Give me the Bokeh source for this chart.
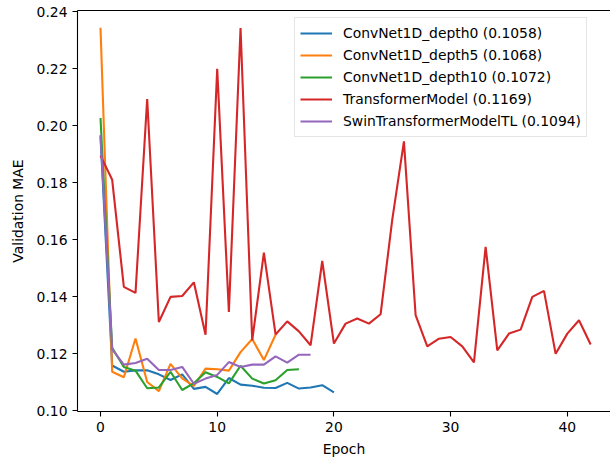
from bokeh.plotting import figure
from bokeh.embed import file_html
from bokeh.resources import INLINE
from bokeh.models import (Range1d, LinearAxis, FixedTicker, PrintfTickFormatter,
                          Legend, LegendItem)

# ---- data (validation MAE per epoch) ----
convnet_d0 = [0.1962, 0.1158, 0.1136, 0.1141, 0.1141, 0.1127, 0.1107, 0.1127, 0.1076, 0.1083,
              0.1058, 0.1114, 0.1091, 0.1087, 0.1080, 0.1079, 0.1097, 0.1077, 0.1081, 0.1089,
              0.1064]
convnet_d5 = [0.2344, 0.1136, 0.1117, 0.1253, 0.1100, 0.1068, 0.1164, 0.1113, 0.1086, 0.1147,
              0.1145, 0.1140, 0.1205, 0.1251, 0.1177, 0.1266]
convnet_d10 = [0.2027, 0.1220, 0.1153, 0.1140, 0.1078, 0.1081, 0.1136, 0.1072, 0.1096, 0.1134,
               0.1118, 0.1095, 0.1157, 0.1112, 0.1095, 0.1106, 0.1142, 0.1145]
transformer = [0.1895, 0.1810, 0.1434, 0.1413, 0.2094, 0.1311, 0.1399, 0.1402, 0.1450, 0.1266,
               0.2200, 0.1346, 0.2343, 0.1246, 0.1554, 0.1267, 0.1313, 0.1278, 0.1229, 0.1525,
               0.1235, 0.1305, 0.1323, 0.1305, 0.1338, 0.1670, 0.1945, 0.1335, 0.1225, 0.1252,
               0.1258, 0.1225, 0.1169, 0.1575, 0.1211, 0.1270, 0.1284, 0.1399, 0.1420, 0.1199,
               0.1270, 0.1317, 0.1232]
swin_tl = [0.1968, 0.1215, 0.1161, 0.1167, 0.1182, 0.1142, 0.1142, 0.1153, 0.1094, 0.1112,
           0.1125, 0.1170, 0.1153, 0.1161, 0.1161, 0.1190, 0.1168, 0.1196, 0.1196]

series_names = ["ConvNet1D_depth0", "ConvNet1D_depth5", "ConvNet1D_depth10",
                "TransformerModel", "SwinTransformerModelTL"]
series_values = [convnet_d0, convnet_d5, convnet_d10, transformer, swin_tl]
series_colors = ["#1f77b4", "#ff7f0e", "#2ca02c", "#d62728", "#9467bd"]

x_ticks = [0, 10, 20, 30, 40]
y_ticks = [0.10, 0.12, 0.14, 0.16, 0.18, 0.20, 0.22, 0.24]

FONT = "DejaVu Sans"
FS = "13.9px"

p = figure(width=610, height=460, output_backend="svg", toolbar_location=None,
           x_range=Range1d(-1.971, 43.70), y_range=Range1d(0.09965, 0.24046),
           min_border_left=77, min_border_right=0, min_border_top=10, min_border_bottom=49)
p.background_fill_color = "white"
p.border_fill_color = "white"
p.outline_line_color = None
p.xgrid.visible = False
p.ygrid.visible = False

for ax in (p.xaxis[0], p.yaxis[0]):
    ax.axis_line_color = "black"
    ax.axis_line_width = 1.1
    ax.major_tick_line_color = "black"
    ax.major_tick_line_width = 1.1
    ax.major_tick_out = 5
    ax.major_tick_in = 0
    ax.minor_tick_line_color = None
    ax.major_label_text_font = FONT
    ax.major_label_text_font_size = FS
    ax.major_label_text_color = "black"
    ax.major_label_standoff = 5
    ax.axis_label_text_font = FONT
    ax.axis_label_text_font_size = FS
    ax.axis_label_text_font_style = "normal"
    ax.axis_label_text_color = "black"

p.xaxis.ticker = FixedTicker(ticks=x_ticks)
p.yaxis.ticker = FixedTicker(ticks=y_ticks)
p.yaxis.formatter = PrintfTickFormatter(format="%.2f")
p.xaxis.axis_label = "Epoch"
p.yaxis.axis_label = "Validation MAE"
p.xaxis.axis_label_standoff = 6
p.yaxis.axis_label_standoff = 8

top_axis = LinearAxis(ticker=FixedTicker(ticks=[]), major_tick_line_color=None,
                      minor_tick_line_color=None, axis_line_color="black",
                      axis_line_width=1.1, major_label_text_font_size="0px")
p.add_layout(top_axis, "above")

items = []
for name, vals, col in zip(series_names, series_values, series_colors):
    xs = list(range(len(vals)))
    r = p.line(xs, vals, line_color=col, line_width=2.1)
    items.append(LegendItem(label=f"{name} ({min(vals):.4f})", renderers=[r]))

legend = Legend(items=items, location=(217, 274))
legend.label_text_font = FONT
legend.label_text_font_size = FS
legend.label_text_color = "black"
legend.glyph_width = 32
legend.glyph_height = 20
legend.label_height = 20
legend.label_standoff = 11
legend.spacing = 2
legend.padding = 5
legend.margin = 0
legend.border_line_color = "#cccccc"
legend.border_line_width = 1
legend.background_fill_alpha = 0.8
p.add_layout(legend)

open("out.html", "w").write(file_html(p, INLINE))
